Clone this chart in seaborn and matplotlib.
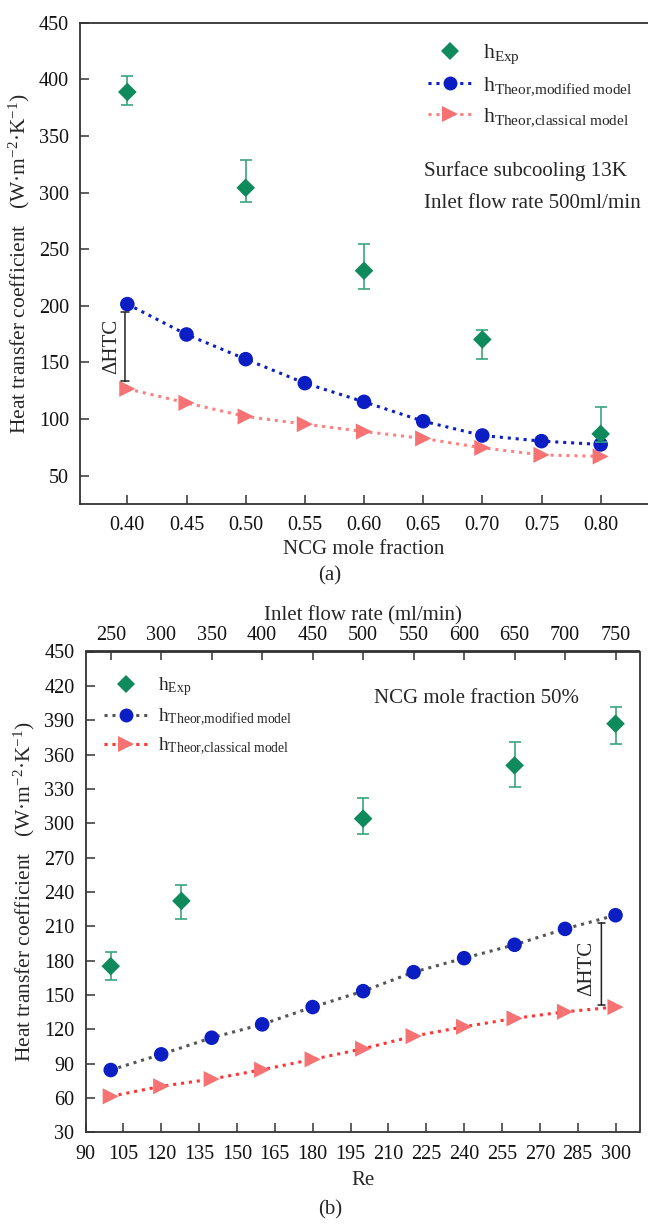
import matplotlib
matplotlib.use("Agg")
import matplotlib.pyplot as plt
from matplotlib.lines import Line2D
import numpy as np
import pandas as pd
import seaborn as sns

# ---- panel (a): effect of NCG mole fraction ----
ncg = [0.40, 0.45, 0.50, 0.55, 0.60, 0.65, 0.70, 0.75, 0.80]
h_mod_a = [201.5, 174.7, 152.9, 131.7, 115.2, 98.1, 85.5, 80.5, 77.6]
h_cls_a = [126.7, 114.3, 102.3, 95.5, 89.0, 82.9, 74.6, 68.4, 67.0]
ncg_exp = [0.40, 0.50, 0.60, 0.70, 0.80]
h_exp_a = [388.8, 304.2, 231.0, 170.3, 86.9]
h_exp_a_hi = [402.6, 329.0, 254.2, 178.8, 110.5]
h_exp_a_lo = [377.3, 291.6, 214.8, 152.6, 80.0]

# ---- panel (b): effect of Reynolds number ----
re = [100, 120, 140, 160, 180, 200, 220, 240, 260, 280, 300]
h_mod_b = [84.4, 98.1, 112.6, 124.3, 139.4, 153.3, 169.9, 182.1, 193.8, 207.7, 219.6]
h_cls_b = [61.4, 70.2, 76.5, 84.7, 93.7, 103.0, 114.0, 122.2, 129.5, 135.3, 139.4]
re_exp = [100, 128, 200, 260, 300]
h_exp_b = [175.1, 232.1, 304.0, 350.5, 386.9]
h_exp_b_hi = [187.1, 246.1, 322.0, 371.2, 401.1]
h_exp_b_lo = [162.9, 216.1, 290.6, 332.0, 369.1]

sns.set_theme(style="ticks")
plt.rcParams["font.family"] = ["Liberation Serif", "DejaVu Serif"]
plt.rcParams["mathtext.fontset"] = "custom"
plt.rcParams["mathtext.rm"] = "Liberation Serif"
plt.rcParams["mathtext.it"] = "Liberation Serif:italic"
plt.rcParams["mathtext.bf"] = "Liberation Serif:bold"

GREEN = "#0e8a5c"
GREEN_ERR = "#3aa57c"
BLUE = "#0a1ec4"
SALMON = "#f77272"
SPINE = "#333333"

TICK_FS = 14.5
LABEL_FS = 15
YLABEL_FS = 15.5

fig = plt.figure(figsize=(6.48, 12.24), dpi=100)
ax_a = fig.add_axes([80 / 648, 1 - 504 / 1224, 1 - 80 / 648, (504 - 22.7) / 1224])
ax_b = fig.add_axes([85.5 / 648, 1 - 1132.3 / 1224, (639.5 - 85.5) / 648, (1132.3 - 651.5) / 1224])

dotted = (0, (1.0, 1.6))

lab_exp = r"h$_{\mathregular{Exp}}$"
lab_mod = r"h$_{\mathregular{Theor{,}modified\ model}}$"
lab_cls = r"h$_{\mathregular{Theor{,}classical\ model}}$"


def style_axes(ax):
    for s in ax.spines.values():
        s.set_color(SPINE)
        s.set_linewidth(1.3)
    ax.tick_params(direction="in", length=6.5, width=1.1, color=SPINE,
                   labelsize=TICK_FS, labelcolor="#111111")
    ax.tick_params(axis="x", pad=9)
    ax.tick_params(axis="y", pad=8)


def draw_panel(ax, x, h_mod, h_cls, xe, he, hi, lo, mod_line, cls_line):
    df = pd.DataFrame({"x": x, "mod": h_mod, "cls": h_cls})
    sns.lineplot(data=df, x="x", y="cls", ax=ax, color=cls_line, linestyle=dotted,
                 linewidth=2.2, zorder=2)
    sns.lineplot(data=df, x="x", y="mod", ax=ax, color=mod_line, linestyle=dotted,
                 linewidth=2.2, zorder=2)
    sns.scatterplot(data=df, x="x", y="cls", ax=ax, marker=">", s=135, color=SALMON,
                    edgecolor="none", zorder=3)
    sns.scatterplot(data=df, x="x", y="mod", ax=ax, marker="o", s=110, color=BLUE,
                    edgecolor="none", zorder=3)
    he_arr = np.array(he)
    yerr = [he_arr - np.array(lo), np.array(hi) - he_arr]
    ax.errorbar(xe, he, yerr=yerr, fmt="none", ecolor=GREEN_ERR, elinewidth=1.2,
                capsize=4.5, capthick=1.2, zorder=4)
    sns.scatterplot(x=xe, y=he, ax=ax, marker="D", s=90, color=GREEN,
                    edgecolor="none", zorder=5)


def legend(ax, mod_line, cls_line, anchor, fs, spacing):
    handles = [
        Line2D([], [], marker="D", color=GREEN, linestyle="none", markersize=9,
               markeredgewidth=0),
        Line2D([], [], marker="o", color=mod_line, markerfacecolor=BLUE, linestyle=dotted,
               linewidth=2.2, markersize=10, markeredgewidth=0),
        Line2D([], [], marker=">", color=cls_line, markerfacecolor=SALMON, linestyle=dotted,
               linewidth=2.2, markersize=11, markeredgewidth=0),
    ]
    ax.legend(handles, [lab_exp, lab_mod, lab_cls], loc="upper left",
              bbox_to_anchor=anchor, frameon=False, fontsize=fs,
              handlelength=43 / (fs * 100 / 72), handletextpad=0.55,
              labelspacing=spacing, borderpad=0, borderaxespad=0)


ylabel = "Heat transfer coefficient   (W·m$^{\\mathregular{-2}}$·K$^{\\mathregular{-1}}$)"

# ---- panel (a) ----
draw_panel(ax_a, ncg, h_mod_a, h_cls_a, ncg_exp, h_exp_a, h_exp_a_hi, h_exp_a_lo,
           BLUE, "#ff8080")
ax_a.set_xlim(0.36, 0.84)
ax_a.set_ylim(25, 450)
ax_a.set_xticks(ncg)
ax_a.set_xticklabels([f"{v:.2f}" for v in ncg])
ax_a.set_yticks(np.arange(50, 451, 50))
style_axes(ax_a)
ax_a.spines["right"].set_visible(False)
ax_a.set_xlabel("NCG mole fraction", fontsize=LABEL_FS, labelpad=3)
ax_a.set_ylabel(ylabel, fontsize=YLABEL_FS, labelpad=5)
legend(ax_a, BLUE, "#ff8080", (0.613, 0.958), 15.7, 0.4)
ax_a.text(0.6505, 319, "Surface subcooling 13K", fontsize=15.1, va="center", ha="left")
ax_a.text(0.6505, 290.5, "Inlet flow rate 500ml/min", fontsize=15.1, va="center", ha="left")
ax_a.annotate("", xy=(0.398, 133.2), xytext=(0.398, 194.2),
              arrowprops=dict(arrowstyle="|-|, widthA=0.22, widthB=0.22", color="#222222",
                              lw=1.1, shrinkA=0, shrinkB=0))
ax_a.text(0.387, 164, "ΔHTC", rotation=90, fontsize=15, ha="center", va="center")

# ---- panel (b) ----
draw_panel(ax_b, re, h_mod_b, h_cls_b, re_exp, h_exp_b, h_exp_b_hi, h_exp_b_lo,
           "#555555", "#ff3535")
ax_b.set_xlim(90, 309.5)
ax_b.set_ylim(30, 450)
ax_b.set_xticks(np.arange(90, 301, 15))
ax_b.set_yticks(np.arange(30, 451, 30))
style_axes(ax_b)
ax_b.set_xlabel("Re", fontsize=LABEL_FS, labelpad=5)
ax_b.set_ylabel(ylabel, fontsize=YLABEL_FS, labelpad=5)
top = ax_b.secondary_xaxis("top", functions=(lambda r: r * 2.5, lambda f: f / 2.5))
top.set_xticks(np.arange(250, 751, 50))
top.tick_params(direction="in", length=6.5, width=1.1, color=SPINE, labelsize=TICK_FS,
                labelcolor="#111111", pad=5)
top.spines["top"].set_color(SPINE)
top.spines["top"].set_linewidth(1.3)
top.set_xlabel("Inlet flow rate (ml/min)", fontsize=LABEL_FS, labelpad=4)
legend(ax_b, "#555555", "#ff3535", (0.034, 0.950), 14, 0.42)
ax_b.text(204.3, 409, "NCG mole fraction 50%", fontsize=15, va="center", ha="left")
ax_b.annotate("", xy=(294.4, 141.4), xytext=(294.4, 213),
              arrowprops=dict(arrowstyle="|-|, widthA=0.22, widthB=0.22", color="#222222",
                              lw=1.1, shrinkA=0, shrinkB=0))
ax_b.text(288.5, 173, "ΔHTC", rotation=90, fontsize=15, ha="center", va="center")

fig.text(330 / 648, 1 - 576 / 1224, "(a)", fontsize=15, ha="center", va="center")
fig.text(330 / 648, 1 - 1210 / 1224, "(b)", fontsize=15, ha="center", va="center")

fig.savefig("out.png", dpi=100)
